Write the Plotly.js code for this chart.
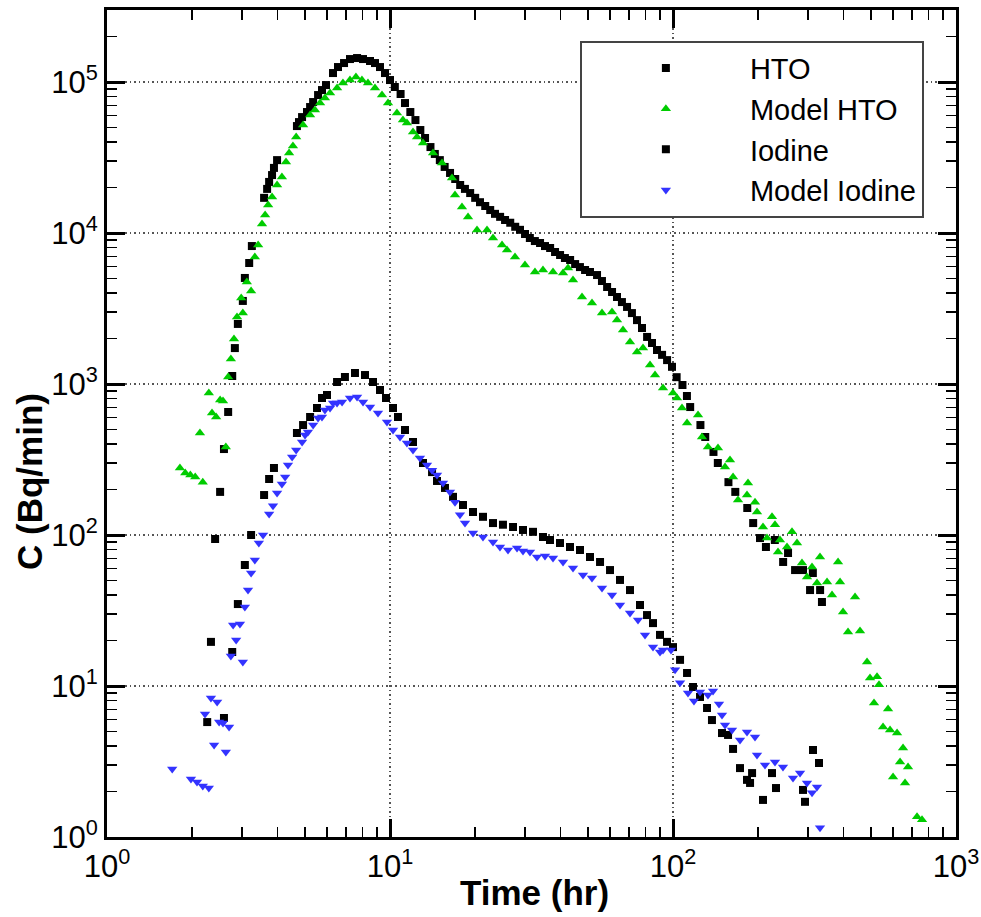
<!DOCTYPE html>
<html>
<head>
<meta charset="utf-8">
<script src="https://cdn.plot.ly/plotly-3.0.1.min.js"></script>
<style>html,body{margin:0;padding:0;background:#fff;}</style>
</head>
<body>
<div id="chart" style="width:981px;height:917px;"></div>
<script>
// ---- Data (Time in hr, C in Bq/min) ----
const htoTime = [2.41,2.51,2.59,2.68,2.77,2.83,2.90,3.02,3.07,3.18,3.25,3.59,3.68,3.74,3.83,3.89,3.99,4.69,4.77,4.89,5.09,5.22,5.35,5.57,5.75,5.94,6.29,6.55,6.88,7.22,7.65,8.03,8.50,8.85,9.22,9.60,10.0,10.4,10.9,11.3,11.8,12.3,12.8,13.3,13.9,14.4,15.0,15.6,16.3,17.0,17.7,18.4,19.2,20.0,20.8,21.7,22.6,23.5,24.5,25.5,26.6,27.7,28.8,30.0,31.2,32.5,33.9,35.3,36.8,38.3,39.9,41.5,43.3,45.1,46.9,48.9,50.9,53.9,56.1,58.5,60.9,63.4,66.0,68.8,71.6,74.6,77.7,81.0,84.3,87.8,91.5,95.3,99.2,103,108,112,115,125,130,139,144,157,166,183,192,203,213,229,245,255,270,288,305,312,331,336];
const htoC = [94.1,193,371,653,1130,1730,2500,3550,5040,6330,8200,17100,19600,21800,24200,27000,30400,51100,54300,58600,63300,68300,73700,82000,88500,95500,114700,125700,133600,142000,144200,142000,137800,133600,125700,114700,103100,92700,83300,72600,63300,56000,48100,42600,37100,33400,30400,27400,25000,22800,20800,19600,18400,17100,16000,15100,14200,13400,12800,12200,11700,11000,10500,9850,9270,8850,8590,8200,7960,7490,7150,6830,6630,6230,5950,5690,5520,5270,4810,4390,4070,3770,3490,3240,2950,2650,2350,2050,1870,1680,1560,1440,1300,1110,985,833,704,535,446,355,300,224,193,151,120,95.5,83.3,92.7,66.3,76.0,58.6,58.6,43.2,56.0,43.2,36.0];

const modelHtoTime = [1.81,1.89,1.97,2.05,2.13,2.18,2.29,2.35,2.43,2.51,2.57,2.63,2.68,2.74,2.81,2.88,2.98,3.02,3.12,3.23,3.33,3.42,3.53,3.62,3.71,3.83,3.99,4.15,4.29,4.40,4.54,4.66,4.93,5.22,5.43,5.66,5.89,6.14,6.50,6.82,7.22,7.58,7.96,8.36,8.85,9.37,9.84,10.58,11.11,11.48,12.06,12.46,13.08,14.19,15.27,16.56,16.97,17.96,18.87,20.30,22.02,23.12,24.88,25.91,27.65,29.99,32.53,34.72,37.67,40.87,42.56,44.33,47.70,51.73,56.12,60.88,63.41,66.58,70.49,74.62,78.35,82.95,86.40,92.19,100,103.3,107.6,112.1,122.6,126.6,132.9,144.2,152.7,159.0,163.0,169.7,182.6,184.1,194.9,198.1,208.0,214.9,223.8,229.3,235.0,238.8,252.8,263.3,274.3,285.6,297.5,309.9,322.7,330.7,350.2,364.7,383.0,389.3,398.9,415.4,439.8,458.0,484.9,496.8,513.2,525.9,534.5,552.3,575.3,584.7,599.2,619.0,634.3,649.9,660.6,676.9,728.3,758.5];
const modelHtoC = [278,257,250,242,474,224,872,643,605,783,772,383,1113,1464,1987,2778,3711,2953,4737,4129,6935,8328,11470,13160,15320,17310,20790,23490,29530,33880,37690,43240,51900,60450,65240,72600,78350,84560,91270,98490,103100,107900,103100,98490,91270,82020,72600,62330,56030,53510,46660,43240,39450,33880,29080,23130,17850,14870,12760,10460,10460,9266,8328,7717,6935,6139,5517,5689,5517,5434,5864,4884,3769,3439,2953,2999,2654,2278,1897,1629,1732,1336,1147,941,872,808,694,552,623,446,383,377,282,314,242,170.5,184,221,165,142,113,95.5,132,117,77.2,92.7,83.3,105,88.5,65.3,52.7,61.4,48.1,71.5,48.8,40.1,66.3,48.8,30.9,22.8,38.8,23.1,14.4,11.3,7.72,11.5,10.2,5.35,7.04,5.11,2.50,4.88,3.14,3.89,2.28,2.91,1.36,1.30];

const iodineTime = [2.26,2.33,2.59,2.77,2.90,3.07,3.23,3.59,3.74,3.89,4.69,4.93,5.22,5.52,5.75,5.99,6.50,6.93,7.52,8.16,8.71,9.22,9.68,10.25,10.67,11.30,12.06,13.08,14.08,14.66,15.64,16.70,18.11,19.65,21.31,23.12,25.07,27.21,29.51,32.01,34.72,36.76,39.87,43.25,46.92,50.90,55.23,59.91,64.98,70.49,76.45,80.95,84.98,89.98,95.26,100,105.9,112.1,117.7,124.6,131.9,137.3,149.0,156.5,163.0,172.5,182.6,187.2,190.3,208.0,223.8,231.2,288.0,292.7,312.4,328.0];
const iodineC = [5.77,19.6,6.14,16.8,34.9,63.3,100,184,235,278,474,535,605,694,808,846,1031,1113,1183,1147,1031,913,808,694,605,496,413,300,261,228,205,179,158,142,132,120,117,113,108,105,97.0,92.7,88.5,83.3,79.6,71.5,66.3,58.6,50.4,43.2,34.4,29.5,26.1,21.8,19.6,18.1,14.9,12.2,9.85,8.46,7.15,5.95,4.88,4.74,3.83,2.86,2.39,2.28,2.65,1.76,2.65,2.11,2.05,1.71,3.77,3.09];

const modelIodineTime = [1.70,1.98,2.08,2.18,2.22,2.29,2.33,2.39,2.45,2.49,2.57,2.63,2.70,2.74,2.79,2.86,2.95,3.02,3.07,3.15,3.23,3.33,3.44,3.56,3.74,3.86,3.99,4.15,4.26,4.36,4.51,4.66,4.89,5.01,5.13,5.35,5.57,5.75,5.89,6.14,6.29,6.50,6.77,7.22,7.65,8.03,8.50,9.07,9.76,10.25,10.85,11.48,12.06,12.76,13.51,14.08,14.66,15.39,16.29,16.97,17.67,18.41,19.65,21.31,23.12,24.47,26.12,28.11,29.51,31.24,33.07,35.29,37.67,40.87,44.33,48.09,51.73,56.12,60.88,64.98,70.49,75.22,79.64,84.98,89.98,92.19,98.40,101.7,105.9,113.0,118.6,124.6,132.9,138.5,145.4,149.0,152.7,161.6,172.5,182.6,194.9,198.1,211.4,229.3,244.7,265.5,281.1,297.5,309.9,322.7,330.7];
const modelIodineC = [2.82,2.42,2.31,2.18,6.52,2.11,8.33,4.07,7.84,5.77,5.69,3.65,5.35,15.8,25.4,20.2,25.7,14.4,33.4,43.2,56.0,68.3,88.5,100,138,156,190,218,242,291,329,366,413,460,481,535,596,605,673,694,749,749,760,808,820,760,704,643,560,496,446,407,366,324,291,269,250,221,193,165,136,120,103,97.0,89.9,83.3,79.6,82.0,78.4,77.2,71.5,72.6,70.4,66.3,60.4,54.3,51.9,44.6,40.1,34.4,30.4,27.4,21.8,18.1,16.8,17.3,17.3,12.8,10.5,8.99,7.96,9.13,8.72,9.27,7.60,6.43,5.52,5.11,4.39,4.96,4.60,3.49,3.00,3.14,2.91,2.46,2.65,2.28,1.96,2.14,1.15];

const seriesNames = ['HTO', 'Model HTO', 'Iodine', 'Model Iodine'];
const xTitle = 'Time (hr)';
const yTitle = 'C (Bq/min)';
const xTickVals = [1, 10, 100, 1000];
const xTickText = ['10<sup>0</sup>', '10<sup>1</sup>', '10<sup>2</sup>', '10<sup>3</sup>'];
const yTickVals = [1, 10, 100, 1000, 10000, 100000];
const yTickText = ['10<sup>0</sup>', '10<sup>1</sup>', '10<sup>2</sup>', '10<sup>3</sup>', '10<sup>4</sup>', '10<sup>5</sup>'];

const FONT = 'Liberation Sans, Arial, Helvetica, sans-serif';
const BLACK = '#000000', GREEN = '#00cc00', BLUE = '#3333ff';

const traces = [
  {x: htoTime, y: htoC, name: seriesNames[0], type: 'scatter', mode: 'markers',
   marker: {symbol: 'square', size: 8, color: BLACK}},
  {x: modelHtoTime, y: modelHtoC, name: seriesNames[1], type: 'scatter', mode: 'markers',
   marker: {symbol: 'triangle-up', size: 9, color: GREEN}},
  {x: iodineTime, y: iodineC, name: seriesNames[2], type: 'scatter', mode: 'markers',
   marker: {symbol: 'square', size: 8, color: BLACK}},
  {x: modelIodineTime, y: modelIodineC, name: seriesNames[3], type: 'scatter', mode: 'markers',
   marker: {symbol: 'triangle-down', size: 9, color: BLUE}}
];

function axisBase() {
  return {
    type: 'log',
    ticks: 'inside', ticklen: 18, tickwidth: 3, tickcolor: BLACK,
    showline: true, linewidth: 3, linecolor: BLACK, mirror: 'allticks',
    showgrid: true, gridcolor: '#555555', gridwidth: 1.3, griddash: '1.5px,3px',
    zeroline: false,
    minor: {ticks: 'inside', ticklen: 10, tickwidth: 1.5, tickcolor: BLACK, dtick: 'D1', showgrid: false},
    tickmode: 'array',
    tickfont: {family: FONT, size: 31, color: BLACK},
    automargin: false
  };
}

const xaxis = Object.assign(axisBase(), {range: [0, 3], tickvals: xTickVals, ticktext: xTickText});
const yaxis = Object.assign(axisBase(), {range: [0, Math.log10(3e5)], tickvals: yTickVals, ticktext: yTickText});

const titleFont = {family: FONT, size: 35, weight: 'bold', color: BLACK};

const layout = {
  width: 981, height: 917,
  margin: {l: 107, r: 25, t: 10, b: 80, pad: 0},
  paper_bgcolor: '#ffffff', plot_bgcolor: '#ffffff',
  font: {family: FONT, color: BLACK, size: 29},
  showlegend: true,
  legend: {x: 0.557, y: 0.963, xanchor: 'left', yanchor: 'top',
           bgcolor: '#ffffff', bordercolor: '#444444', borderwidth: 2,
           font: {family: FONT, size: 29, color: BLACK}, itemwidth: 158, tracegroupgap: 0},
  xaxis: xaxis, yaxis: yaxis,
  annotations: [
    {text: xTitle, xref: 'paper', yref: 'paper', x: 0.503, y: -0.0677,
     xanchor: 'center', yanchor: 'middle', showarrow: false, font: titleFont},
    {text: yTitle, xref: 'paper', yref: 'paper', x: -0.0907, y: 0.4305, textangle: -90,
     xanchor: 'center', yanchor: 'middle', showarrow: false, font: titleFont}
  ]
};

Plotly.newPlot('chart', traces, layout, {displayModeBar: false, staticPlot: true});
</script>
</body>
</html>
